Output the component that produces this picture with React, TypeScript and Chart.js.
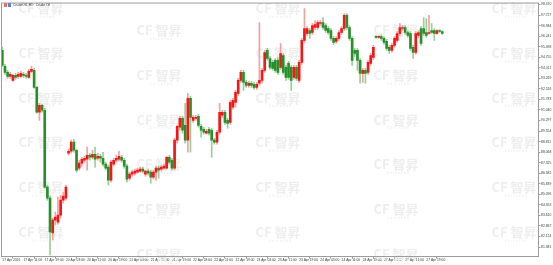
import React, { useEffect, useRef } from "react";
import { Chart, registerables } from "chart.js";

Chart.register(...registerables);

const titleText = "CrudeOIL,H1:  Crude Oil";
const watermarkText = "CF 智昇";
const watermarkSub = "Z H I S H E N G";

const opens = [
  95.24, 94.11, 93.69, 93.41, 93.13, 93.48, 93.41, 93.41, 93.55, 93.48,
  93.34, 93.76, 93.83, 92.63, 90.88, 91.37, 91.02, 85.60, 84.83, 82.37,
  83.28, 83.14, 83.63, 84.69, 84.83, 87.99, 88.13, 88.77, 88.20, 86.94,
  87.29, 87.50, 87.57, 87.85, 87.71, 87.92, 87.64, 87.78, 87.64, 87.22,
  87.01, 86.10, 87.22, 87.50, 87.57, 87.71, 87.50, 87.08, 86.24, 86.52,
  86.59, 86.66, 86.73, 86.87, 86.52, 86.73, 86.66, 86.31, 86.66, 86.94,
  86.87, 86.94, 86.94, 87.71, 87.50, 86.94, 88.91, 89.82, 90.45, 89.96,
  88.91, 91.86, 90.31, 90.45, 90.60, 89.89, 89.68, 89.40, 89.68, 89.61,
  88.91, 88.77, 89.47, 90.67, 90.88, 90.31, 90.17, 91.23, 91.58, 92.21,
  93.13, 93.69, 92.99, 92.77, 92.92, 92.85, 92.63, 92.92, 93.13, 93.83,
  95.24, 94.67, 94.39, 94.53, 94.53, 94.04, 94.88, 94.04, 94.32, 94.04,
  93.34, 94.04, 93.13, 94.39, 95.94, 96.43, 96.64, 96.50, 96.85, 96.85,
  97.13, 97.20, 96.99, 96.78, 96.64, 96.08, 95.87, 96.08, 96.50, 96.78,
  97.70, 96.85, 96.08, 95.24, 95.24, 94.53, 93.62, 93.83, 93.69, 94.32,
  94.74, 96.22, 96.15, 96.22, 96.08, 95.87, 95.45, 95.24, 95.59, 95.94,
  96.43, 96.78, 96.85, 96.50, 96.43, 95.45, 95.09, 96.29, 96.78, 96.78,
  96.50, 96.43, 96.64, 96.64, 96.43, 96.64, 96.57,
];

const highs = [
  95.45, 94.25, 93.83, 93.69, 93.55, 93.62, 93.69, 93.76, 93.69, 93.62,
  93.90, 94.11, 93.97, 92.70, 91.51, 91.44, 91.16, 85.74, 84.97, 83.42,
  83.85, 84.90, 85.04, 85.25, 85.74, 88.28, 88.91, 88.98, 88.28, 87.50,
  87.71, 87.78, 88.42, 87.99, 88.20, 88.42, 87.99, 87.92, 88.06, 87.36,
  87.15, 87.50, 87.64, 87.85, 88.13, 87.85, 87.64, 87.22, 86.66, 86.80,
  86.87, 86.94, 87.01, 87.01, 86.80, 86.87, 86.80, 86.80, 87.08, 87.08,
  87.15, 87.22, 87.78, 87.85, 87.64, 89.05, 89.96, 90.60, 90.60, 91.51,
  92.21, 92.00, 90.67, 90.67, 90.74, 90.03, 89.82, 89.68, 89.82, 89.75,
  89.05, 89.61, 91.51, 91.02, 91.02, 90.45, 91.72, 91.86, 92.42, 93.27,
  93.83, 93.83, 93.13, 93.06, 93.06, 92.99, 92.99, 97.20, 93.97, 95.24,
  95.38, 94.81, 94.53, 94.67, 94.74, 95.73, 95.02, 94.18, 94.46, 94.18,
  94.18, 94.18, 94.53, 96.08, 98.19, 96.92, 96.78, 97.13, 97.34, 97.34,
  97.34, 97.55, 97.13, 96.92, 96.78, 96.22, 96.22, 96.64, 96.92, 97.84,
  97.84, 96.99, 96.22, 95.38, 95.38, 94.67, 93.97, 93.97, 94.53, 95.02,
  95.59, 96.29, 96.29, 96.36, 96.22, 96.01, 95.59, 95.73, 96.22, 96.57,
  97.13, 96.99, 96.99, 96.64, 96.57, 95.59, 96.57, 96.64, 96.92, 97.55,
  97.48, 97.70, 97.13, 96.78, 96.71, 96.71, 96.64,
];

const lows = [
  94.11, 93.55, 93.27, 93.27, 93.06, 93.20, 93.27, 93.34, 93.34, 93.27,
  93.27, 93.69, 92.56, 90.81, 90.31, 90.88, 85.53, 84.69, 80.82, 81.88,
  82.93, 83.00, 83.42, 84.48, 84.69, 87.85, 87.99, 88.06, 86.66, 86.80,
  87.08, 87.36, 86.80, 87.50, 87.57, 87.01, 87.50, 87.36, 87.08, 86.80,
  85.74, 85.96, 87.08, 87.36, 87.43, 87.36, 86.94, 85.96, 86.10, 86.38,
  86.45, 86.59, 86.66, 86.59, 86.38, 86.45, 85.89, 86.17, 86.10, 86.24,
  86.73, 86.87, 86.87, 87.22, 86.80, 86.80, 88.70, 89.61, 89.40, 88.70,
  88.06, 88.06, 90.17, 90.31, 89.82, 89.12, 89.33, 89.33, 89.26, 87.71,
  88.63, 88.63, 89.33, 90.52, 90.03, 89.75, 90.03, 91.09, 91.23, 92.07,
  92.99, 92.42, 92.63, 92.63, 92.63, 92.49, 92.49, 92.77, 92.92, 93.69,
  94.53, 93.90, 93.83, 93.69, 93.55, 93.90, 93.55, 93.13, 93.20, 92.42,
  93.20, 93.13, 92.99, 94.25, 95.80, 96.29, 96.08, 96.36, 96.71, 96.71,
  96.99, 96.71, 96.50, 96.36, 95.94, 95.66, 95.73, 95.94, 96.36, 96.64,
  96.71, 95.94, 94.18, 94.81, 93.83, 92.92, 92.99, 92.92, 93.55, 94.18,
  94.60, 96.08, 96.08, 95.94, 95.66, 95.24, 95.02, 95.09, 95.45, 95.80,
  96.29, 96.64, 96.36, 96.15, 95.24, 94.67, 94.95, 96.15, 95.59, 96.29,
  96.15, 96.36, 96.43, 95.94, 96.36, 96.50, 96.36,
];

const closes = [
  94.18, 93.69, 93.41, 93.55, 93.48, 93.34, 93.55, 93.62, 93.48, 93.41,
  93.76, 93.90, 92.63, 90.88, 91.37, 91.02, 85.60, 84.83, 82.44, 83.28,
  83.49, 83.63, 84.69, 84.97, 85.60, 88.13, 88.77, 88.20, 86.80, 87.29,
  87.57, 87.64, 87.85, 87.71, 87.92, 87.57, 87.78, 87.64, 87.22, 86.94,
  86.10, 87.36, 87.50, 87.64, 87.78, 87.50, 87.08, 86.17, 86.52, 86.66,
  86.73, 86.80, 86.87, 86.73, 86.73, 86.59, 86.31, 86.66, 86.94, 86.80,
  87.01, 87.08, 87.71, 87.36, 86.94, 88.91, 89.89, 90.45, 89.61, 88.91,
  91.86, 90.52, 90.52, 90.52, 89.96, 89.61, 89.47, 89.54, 89.40, 88.91,
  88.77, 89.47, 90.88, 90.88, 90.17, 90.10, 91.58, 91.72, 92.28, 93.13,
  93.69, 92.99, 92.77, 92.92, 92.77, 92.63, 92.85, 93.13, 93.83, 95.09,
  94.67, 94.04, 93.97, 93.83, 93.69, 95.02, 93.69, 93.34, 93.34, 93.13,
  94.04, 93.27, 94.39, 95.94, 96.78, 96.78, 96.43, 96.99, 97.06, 97.20,
  97.20, 96.85, 96.64, 96.50, 96.08, 95.80, 96.08, 96.50, 96.78, 97.70,
  96.85, 96.08, 94.53, 95.02, 94.53, 93.62, 93.83, 93.62, 94.39, 94.88,
  95.45, 96.15, 96.22, 96.08, 95.80, 95.38, 95.24, 95.59, 96.08, 96.43,
  96.85, 96.85, 96.50, 96.29, 95.38, 95.09, 96.43, 96.50, 95.73, 96.43,
  96.29, 96.50, 96.50, 96.43, 96.64, 96.57, 96.43,
];

const xTickIndex = [0, 8, 16, 24, 32, 40, 48, 56, 64, 72, 80, 88, 96, 104, 112, 120, 128, 136, 144, 152, 160];
const xTickLabels = [
  "17 Apr 2026", "17 Apr 11:00", "17 Apr 19:00", "20 Apr 03:00", "20 Apr 11:00",
  "20 Apr 19:00", "21 Apr 03:00", "21 Apr 11:00", "21 Apr 19:00", "22 Apr 03:00",
  "22 Apr 11:00", "22 Apr 19:00", "23 Apr 03:00", "23 Apr 11:00", "23 Apr 19:00",
  "24 Apr 03:00", "24 Apr 11:00", "24 Apr 19:00", "27 Apr 03:00", "27 Apr 11:00",
  "27 Apr 19:00",
];
const yTickValues = [
  98.470, 97.727, 96.984, 96.241, 95.498, 94.755, 94.012, 93.269, 92.526, 91.783,
  91.040, 90.297, 89.554, 88.811, 88.068, 87.325, 86.582, 85.839, 85.096, 84.353,
  83.610, 82.867, 82.124, 81.381,
];

const UP_BODY = "#f51616";
const DOWN_BODY = "#27902a";
const UP_WICK = "#f6a0a0";
const DOWN_WICK = "#98cf98";
const FRAME = "#9c9c9c";
const TEXT = "#3a3a3a";
const FONT = "'Liberation Sans', Arial, sans-serif";

const decorPlugin = {
  id: "decor",
  beforeDatasetsDraw(chart: any) {
    const ctx = chart.ctx;
    ctx.save();
    const cols = [41, 159, 278, 396, 514];
    cols.forEach((cx, ci) => {
      const start = ci % 2 === 0 ? 8 : 30;
      for (let r = 0; r < 6; r++) {
        const cy = start + r * 44.8;
        ctx.fillStyle = "#eeeeee";
        ctx.textAlign = "center";
        ctx.textBaseline = "middle";
        ctx.font = "bold 13px 'Noto Sans CJK SC', 'DejaVu Sans', sans-serif";
        ctx.fillText(watermarkText, cx, cy);
        ctx.font = "3px 'DejaVu Sans', sans-serif";
        ctx.fillStyle = "#e9e9e9";
        ctx.fillText(watermarkSub, cx + 2, cy + 9);
      }
    });
    ctx.restore();
  },
  afterDraw(chart: any) {
    const ctx = chart.ctx;
    const a = chart.chartArea;
    ctx.save();
    ctx.strokeStyle = FRAME;
    ctx.lineWidth = 1;
    ctx.strokeRect(a.left + 0.5, a.top + 0.5, a.right - a.left - 1, a.bottom - a.top - 1);
    ctx.fillStyle = "#e8705e";
    ctx.fillRect(4, 3, 3, 4);
    ctx.fillStyle = "#5b86cf";
    ctx.fillRect(8, 3, 3, 4);
    ctx.fillStyle = TEXT;
    ctx.font = "3.4px " + FONT;
    ctx.textAlign = "left";
    ctx.textBaseline = "middle";
    ctx.fillText(titleText, 13, 5.2);
    ctx.restore();
  },
};

export default function App() {
  const ref = useRef<HTMLCanvasElement | null>(null);

  useEffect(() => {
    if (!ref.current) return;
    const bodies = opens.map((o, i) => ({ x: i, y: [o, closes[i]] }));
    const wicks = opens.map((_, i) => ({ x: i, y: [lows[i], highs[i]] }));
    const bodyColors = opens.map((o, i) => (closes[i] >= o ? UP_BODY : DOWN_BODY));
    const wickColors = opens.map((o, i) => (closes[i] >= o ? UP_WICK : DOWN_WICK));

    const chart = new Chart(ref.current, {
      type: "bar",
      data: {
        datasets: [
          {
            data: wicks as any,
            backgroundColor: wickColors,
            barThickness: 1,
            grouped: false,
            order: 2,
          } as any,
          {
            data: bodies as any,
            backgroundColor: bodyColors,
            barThickness: 2,
            minBarLength: 1,
            grouped: false,
            order: 1,
          } as any,
        ],
      },
      options: {
        animation: false,
        responsive: false,
        devicePixelRatio: 1,
        layout: { padding: { left: 1, top: 2, right: 0, bottom: 0 } },
        plugins: { legend: { display: false }, tooltip: { enabled: false } },
        scales: {
          x: {
            type: "linear",
            min: -0.5,
            max: 202.5,
            offset: false,
            afterBuildTicks: (scale: any) => {
              scale.ticks = xTickIndex.map((v) => ({ value: v }));
            },
            afterFit: (scale: any) => {
              scale.height = 8;
            },
            ticks: {
              autoSkip: false,
              maxRotation: 0,
              minRotation: 0,
              align: "start",
              padding: 0,
              color: TEXT,
              font: { size: 3.3, family: FONT },
              callback: (_v: any, idx: number) => xTickLabels[idx],
            },
            grid: { display: true, drawOnChartArea: false, drawTicks: true, tickLength: 1.5, color: FRAME },
            border: { display: false },
          },
          y: {
            type: "linear",
            position: "right",
            min: 80.68,
            max: 98.61,
            afterBuildTicks: (scale: any) => {
              scale.ticks = yTickValues.map((v) => ({ value: v }));
            },
            afterFit: (scale: any) => {
              scale.width = 14;
            },
            ticks: {
              autoSkip: false,
              padding: 0.5,
              color: TEXT,
              font: { size: 3.4, family: FONT },
              callback: (v: any) => Number(v).toFixed(3),
            },
            grid: { display: true, drawOnChartArea: false, drawTicks: true, tickLength: 1.5, color: FRAME },
            border: { display: false },
          },
        },
      } as any,
      plugins: [decorPlugin],
    });
    return () => chart.destroy();
  }, []);

  return (
    <div style={{ position: "fixed", left: 0, top: 0, width: 553, height: 265, background: "#ffffff" }}>
      <canvas ref={ref} width={553} height={265} style={{ display: "block", width: 553, height: 265 }} />
    </div>
  );
}
